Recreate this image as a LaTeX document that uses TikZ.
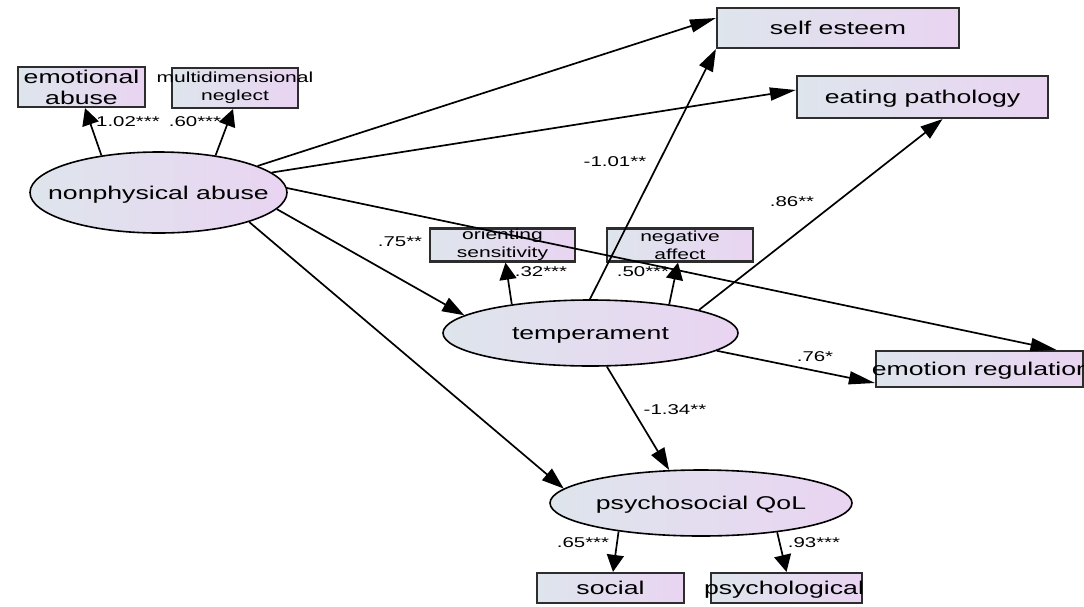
\documentclass[tikz,border=0pt]{standalone}
\usepackage{fontspec}
\setmainfont{Liberation Sans}[FakeStretch=1.44]
\usetikzlibrary{arrows.meta,shapes.geometric,calc}

\definecolor{shadeL}{RGB}{222,229,236}
\definecolor{shadeR}{RGB}{233,212,242}
\definecolor{edgegrey}{RGB}{45,45,45}

% zero-width text so that the label never resizes its frame
\newcommand{\zwtext}[1]{\makebox[0pt]{#1}}

\tikzset{
  obs/.style={rectangle, draw=edgegrey, line width=2.2pt, left color=shadeL,
    right color=shadeR, inner sep=0pt, font=\fontsize{18.5}{21}\selectfont},
  oneline/.style={text height=13.2pt, text depth=0pt},
  smalltext/.style={font=\fontsize{14.6}{18}\selectfont, align=center},
  bigtext/.style={font=\fontsize{18.5}{21}\selectfont, align=center},
  latent/.style={ellipse, draw=black, line width=1.6pt, left color=shadeL,
    right color=shadeR, inner sep=0pt, font=\fontsize{18.5}{21}\selectfont,
    text height=13.2pt, text depth=0pt},
  coef/.style={font=\fontsize{14.2}{16}\selectfont, inner sep=0pt},
  linkH/.style={draw, line width=1.7pt, -{Triangle[length=26pt,width=13pt]}},
  linkD/.style={draw, line width=1.7pt, -{Triangle[length=22pt,width=15pt]}},
  linkV/.style={draw, line width=1.7pt, -{Triangle[length=17pt,width=17pt]}},
}

\begin{document}
\begin{tikzpicture}[x=1pt,y=-1pt]
\fill[white] (0,0) rectangle (1084,606);
\useasboundingbox (0,0) rectangle (1084,606);

% observed indicators
\node[obs, oneline, minimum width=242pt, minimum height=40pt] (se) at (838,28) {\zwtext{self esteem}};
\node[obs, oneline, minimum width=251pt, minimum height=42pt] (ep) at (922.5,97) {\zwtext{eating pathology}};
\node[obs, bigtext, minimum width=127pt, minimum height=40pt] (ea) at (81.5,87) {\zwtext{emotional}\\\zwtext{abuse}};
\node[obs, smalltext, minimum width=126pt, minimum height=40pt] (mn) at (235,88) {\zwtext{multidimensional}\\\zwtext{neglect}};
\node[obs, smalltext, minimum width=145pt, minimum height=33pt] (os) at (502.5,245) {\zwtext{orienting}\\\zwtext{sensitivity}};
\node[obs, smalltext, minimum width=146pt, minimum height=33pt] (na) at (680,245) {\zwtext{negative}\\\zwtext{affect}};
\node[obs, oneline, minimum width=207pt, minimum height=36pt] (er) at (979.5,369) {\zwtext{\hspace{4pt}emotion regulation}};
\node[obs, oneline, minimum width=147pt, minimum height=30pt] (so) at (610.5,588) {\zwtext{social}};
\node[obs, oneline, minimum width=151pt, minimum height=30pt] (ps) at (786.5,588) {\zwtext{psychological\hspace{5pt}}};

% latent factors
\node[latent, minimum width=257pt, minimum height=81pt] (np) at (158.5,192.5) {\zwtext{nonphysical abuse}};
\node[latent, minimum width=295pt, minimum height=66pt] (te) at (590.5,333) {\zwtext{temperament}};
\node[latent, minimum width=302pt, minimum height=66pt] (pq) at (701,503) {\zwtext{psychosocial QoL}};

% paths
\draw[linkV] (np.147) -- ([xshift=3.5pt]ea.south);
\draw[linkV] (np.33) -- ([xshift=-2pt]mn.south);
\draw[linkH] (np.15) -- ([yshift=10pt]se.west);
\draw[linkH] (np.10) -- ([yshift=7pt]ep.west);
\draw[linkH] (np.2) -- ([xshift=77pt]er.north);
\draw[linkD] (np.-8) -- (te.172);
\draw[linkD] (np.-18) -- (pq.174);
\draw[linkV] (te.160) -- ([xshift=3pt]os.south);
\draw[linkV] (te.20) -- ([xshift=-2pt]na.south);
\draw[linkD] (te.91) -- (se.south west);
\draw[linkD] (te.12) -- ([xshift=20pt]ep.south);
\draw[linkH] (te.-8) -- ([yshift=-14pt]er.west);
\draw[linkD] (te.-64) -- (pq.134);
\draw[linkV] (pq.199) -- ([xshift=2.5pt]so.north);
\draw[linkV] (pq.-21) -- (ps.north);

% path coefficients
\node[coef] (c1) at (128,122) {1.02***};
\node[coef] (c2) at (195,122) {.60***};
\node[coef] (c3) at (400,242) {.75**};
\node[coef] (c4) at (541,272) {.32***};
\node[coef] (c5) at (643,272) {.50***};
\node[coef] (c6) at (615,162) {-1.01**};
\node[coef] (c7) at (792,202) {.86**};
\node[coef] (c8) at (815,357) {.76*};
\node[coef] (c9) at (675,410) {-1.34**};
\node[coef] (c10) at (583,543) {.65***};
\node[coef] (c11) at (814,543) {.93***};
\end{tikzpicture}
\end{document}
